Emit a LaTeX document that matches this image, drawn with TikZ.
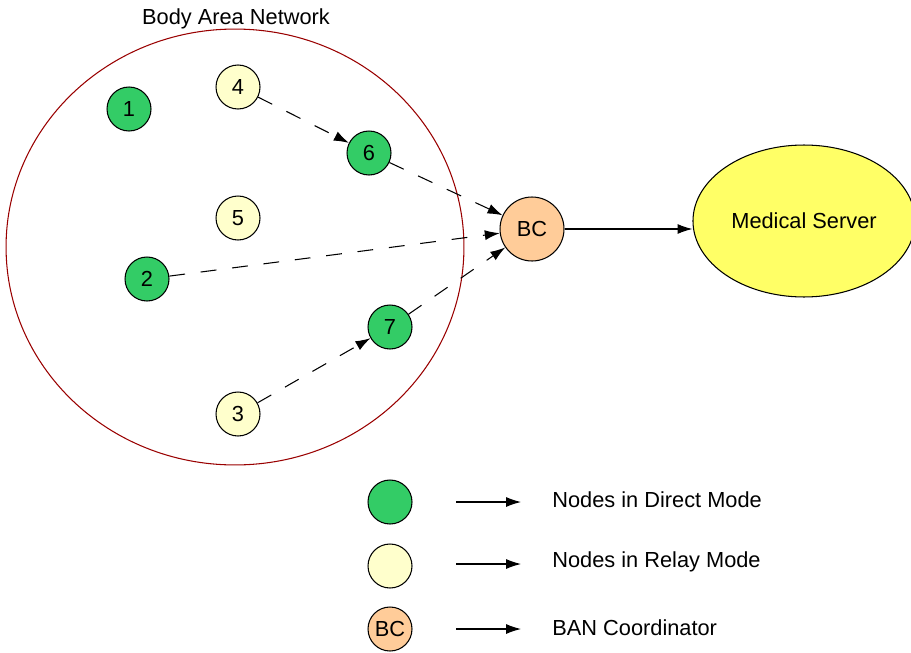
\documentclass[tikz,border=0pt]{standalone}
\usepackage{fontspec}
\setmainfont{Liberation Sans}
\usetikzlibrary{arrows.meta,shapes.geometric}

\definecolor{directgreen}{RGB}{51,204,102}
\definecolor{relayyellow}{RGB}{255,255,204}
\definecolor{bcorange}{RGB}{255,204,153}
\definecolor{serveryellow}{RGB}{255,255,102}
\definecolor{banred}{RGB}{153,0,0}

\tikzset{
    sensor/.style={circle, draw, line width=0.6pt, minimum size=0.88cm, inner sep=0pt},
    direct/.style={sensor, fill=directgreen},
    relay/.style={sensor, fill=relayyellow},
    coordinator/.style={sensor, fill=bcorange},
    wireless/.style={line width=0.6pt, dash pattern=on 9pt off 9pt, -{Latex[length=8.5pt,width=5.7pt]}},
    wired/.style={line width=0.6pt, -{Latex[length=8.5pt,width=5.7pt]}},
    legendtext/.style={anchor=west, inner sep=0pt}
}

\begin{document}
\begin{tikzpicture}[x=0.02cm, y=-0.02cm, font=\fontsize{12.4}{15}\selectfont]
    \useasboundingbox (0,0) rectangle (911,652);

    % body area network
    \node[ellipse, draw=banred, line width=0.6pt, minimum width=9.16cm, minimum height=8.72cm] (ban) at (235,247) {};
    \node (bantitle) at (236,19) {Body Area Network};

    \node[direct] (n1) at (129,109) {1};
    \node[relay]  (n4) at (238,87)  {4};
    \node[direct] (n6) at (369,153) {6};
    \node[relay]  (n5) at (238,218) {5};
    \node[direct] (n2) at (147,279) {2};
    \node[direct] (n7) at (390,327) {7};
    \node[relay]  (n3) at (238,414) {3};

    % coordinator and server
    \node[coordinator, minimum size=1.28cm] (bc) at (532,229) {BC};
    \node[ellipse, draw, line width=0.6pt, fill=serveryellow, minimum width=4.36cm, minimum height=3.04cm] (server) at (804,221) {Medical Server};

    \draw[wireless] (n4) -- (n6);
    \draw[wireless] (n6) -- (bc);
    \draw[wireless] (n2) -- (bc);
    \draw[wireless] (n3) -- (n7);
    \draw[wireless] (n7) -- (bc);
    \draw[wired] (bc.east) -- (server.west |- bc.east);

    % legend
    \node[direct] (ldirect) at (390,502) {};
    \node[relay]  (lrelay)  at (390,566) {};
    \node[coordinator] (lcoord) at (390,629) {BC};

    \coordinate (ldirectfrom) at (456,502);
    \coordinate (ldirectto)   at (521,502);
    \coordinate (lrelayfrom)  at (456,564);
    \coordinate (lrelayto)    at (521,564);
    \coordinate (lcoordfrom)  at (456,629);
    \coordinate (lcoordto)    at (521,629);

    \draw[wired] (ldirectfrom) -- (ldirectto);
    \draw[wired] (lrelayfrom) -- (lrelayto);
    \draw[wired] (lcoordfrom) -- (lcoordto);

    \node[legendtext] (tdirect) at (552,500) {Nodes in Direct Mode};
    \node[legendtext] (trelay)  at (552,562) {Nodes in Relay Mode};
    \node[legendtext] (tcoord)  at (552,628) {BAN Coordinator};
\end{tikzpicture}
\end{document}
